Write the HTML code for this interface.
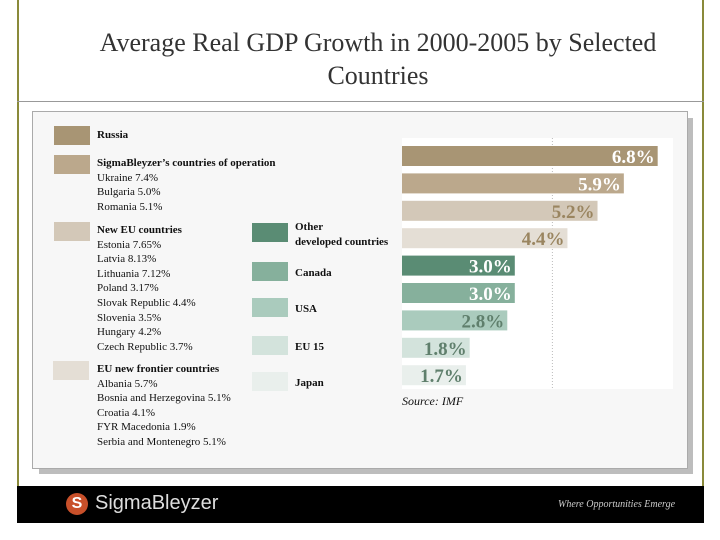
<!DOCTYPE html>
<html><head><meta charset="utf-8"><style>
body{margin:0;width:720px;height:540px;background:#fff;position:relative;overflow:hidden;font-family:"Liberation Serif",serif}
.a{position:absolute}
.t{position:absolute;font-size:11px;color:#111;white-space:nowrap;line-height:14.6px}
.b{font-weight:bold}
.sw{position:absolute;width:36px;height:19px}
</style></head><body>
<div class="a" style="left:17px;top:0;width:2px;height:486px;background:#8a8a3a"></div>
<div class="a" style="left:702px;top:0;width:2px;height:486px;background:#8a8a3a"></div>
<div class="a" style="left:17px;top:101px;width:687px;height:1px;background:#999"></div>
<div class="a" style="left:40px;top:26px;width:676px;text-align:center;font-size:26px;line-height:33px;color:#333">Average Real GDP Growth in 2000-2005 by Selected<br>Countries</div>
<div class="a" style="left:39px;top:118px;width:654px;height:356px;background:#bdbdbd"></div>
<div class="a" style="left:32px;top:111px;width:654px;height:356px;background:#f7f7f7;border:1px solid #aaa"></div>
<div class="a" style="left:402px;top:138px;width:271px;height:251px;background:#fff"></div>

<div class="sw" style="left:54px;top:126px;background:#a89574"></div>
<div class="t b" style="left:97px;top:128px">Russia</div>
<div class="sw" style="left:54px;top:155px;background:#bba88c"></div>
<div class="t" style="left:97px;top:156px"><span class="b">SigmaBleyzer’s countries of operation</span><br>Ukraine 7.4%<br>Bulgaria 5.0%<br>Romania 5.1%</div>
<div class="sw" style="left:54px;top:222px;background:#d3c8b8"></div>
<div class="t" style="left:97px;top:223px"><span class="b">New EU countries</span><br>Estonia 7.65%<br>Latvia 8.13%<br>Lithuania 7.12%<br>Poland 3.17%<br>Slovak Republic 4.4%<br>Slovenia 3.5%<br>Hungary 4.2%<br>Czech Republic 3.7%</div>
<div class="sw" style="left:53px;top:361px;background:#e4ded5"></div>
<div class="t" style="left:97px;top:362px"><span class="b">EU new frontier countries</span><br>Albania 5.7%<br>Bosnia and Herzegovina 5.1%<br>Croatia 4.1%<br>FYR Macedonia 1.9%<br>Serbia and Montenegro 5.1%</div>

<div class="sw" style="left:252px;top:223px;background:#5a8c74"></div>
<div class="t b" style="left:295px;top:220px">Other<br>developed countries</div>
<div class="sw" style="left:252px;top:262px;background:#86b09c"></div>
<div class="t b" style="left:295px;top:266px">Canada</div>
<div class="sw" style="left:252px;top:298px;background:#aacbbd"></div>
<div class="t b" style="left:295px;top:302px">USA</div>
<div class="sw" style="left:252px;top:336px;background:#d3e3dc"></div>
<div class="t b" style="left:295px;top:340px">EU 15</div>
<div class="sw" style="left:252px;top:372px;background:#e9efec"></div>
<div class="t b" style="left:295px;top:376px">Japan</div>

<svg class="a" style="left:0;top:0" width="720" height="540" id="chart"></svg>
<div class="a" style="left:402px;top:394px;font-size:12px;font-style:italic;color:#111">Source: IMF</div>

<div class="a" style="left:17px;top:486px;width:687px;height:37px;background:#000"></div>
<div class="a" style="left:66px;top:493px;width:22px;height:22px;border-radius:50%;background:#c8502a;color:#fff;font:bold 16px 'Liberation Sans',sans-serif;text-align:center;line-height:22px">S</div>
<div class="a" style="left:95px;top:492px;font:20px 'Liberation Sans',sans-serif;color:#ddd">SigmaBleyzer</div>
<div class="a" style="left:558px;top:499px;font-size:10px;font-style:italic;color:#ccc">Where Opportunities Emerge</div>

<script>
const categories=["Russia","SigmaBleyzer","New EU","EU frontier","Other developed","Canada","USA","EU 15","Japan"];
const values=[6.8,5.9,5.2,4.4,3.0,3.0,2.8,1.8,1.7];
const labels=["6.8%","5.9%","5.2%","4.4%","3.0%","3.0%","2.8%","1.8%","1.7%"];
const gridValues=[4];
const colors=["#a89574","#bba88c","#d3c8b8","#e4ded5","#5a8c74","#86b09c","#aacbbd","#d3e3dc","#e9efec"];
const textColors=["#fff","#fff","#9a8560","#9a8560","#fff","#fff","#5f7f6c","#5f7f6c","#5f7f6c"];
const svg=document.getElementById('chart');const NS='http://www.w3.org/2000/svg';
const x0=402,k=37.6;
const xs=v=>x0+v*k;
const ys=i=>146+i*27.4;
gridValues.forEach(g=>{
 const l=document.createElementNS(NS,'line');
 
 
 l.setAttribute('x1',xs(g));l.setAttribute('x2',xs(g));l.setAttribute('y1',138);l.setAttribute('y2',389);
 l.setAttribute('stroke','#bbb');l.setAttribute('stroke-dasharray','1,2');svg.appendChild(l);
});
values.forEach((v,i)=>{
 const r=document.createElementNS(NS,'rect');
 
 
 r.setAttribute('x',x0);r.setAttribute('y',ys(i));r.setAttribute('width',xs(v)-x0);r.setAttribute('height',20);
 r.setAttribute('fill',colors[i]);svg.appendChild(r);
 const t=document.createElementNS(NS,'text');
 
 
 t.setAttribute('x',xs(v)-3);t.setAttribute('y',ys(i)+17);t.setAttribute('text-anchor','end');
 t.setAttribute('font-family','Liberation Serif, serif');t.setAttribute('font-size','19');t.setAttribute('font-weight','bold');
 t.setAttribute('fill',textColors[i]);t.textContent=labels[i];svg.appendChild(t);
});
</script>
</body></html>
